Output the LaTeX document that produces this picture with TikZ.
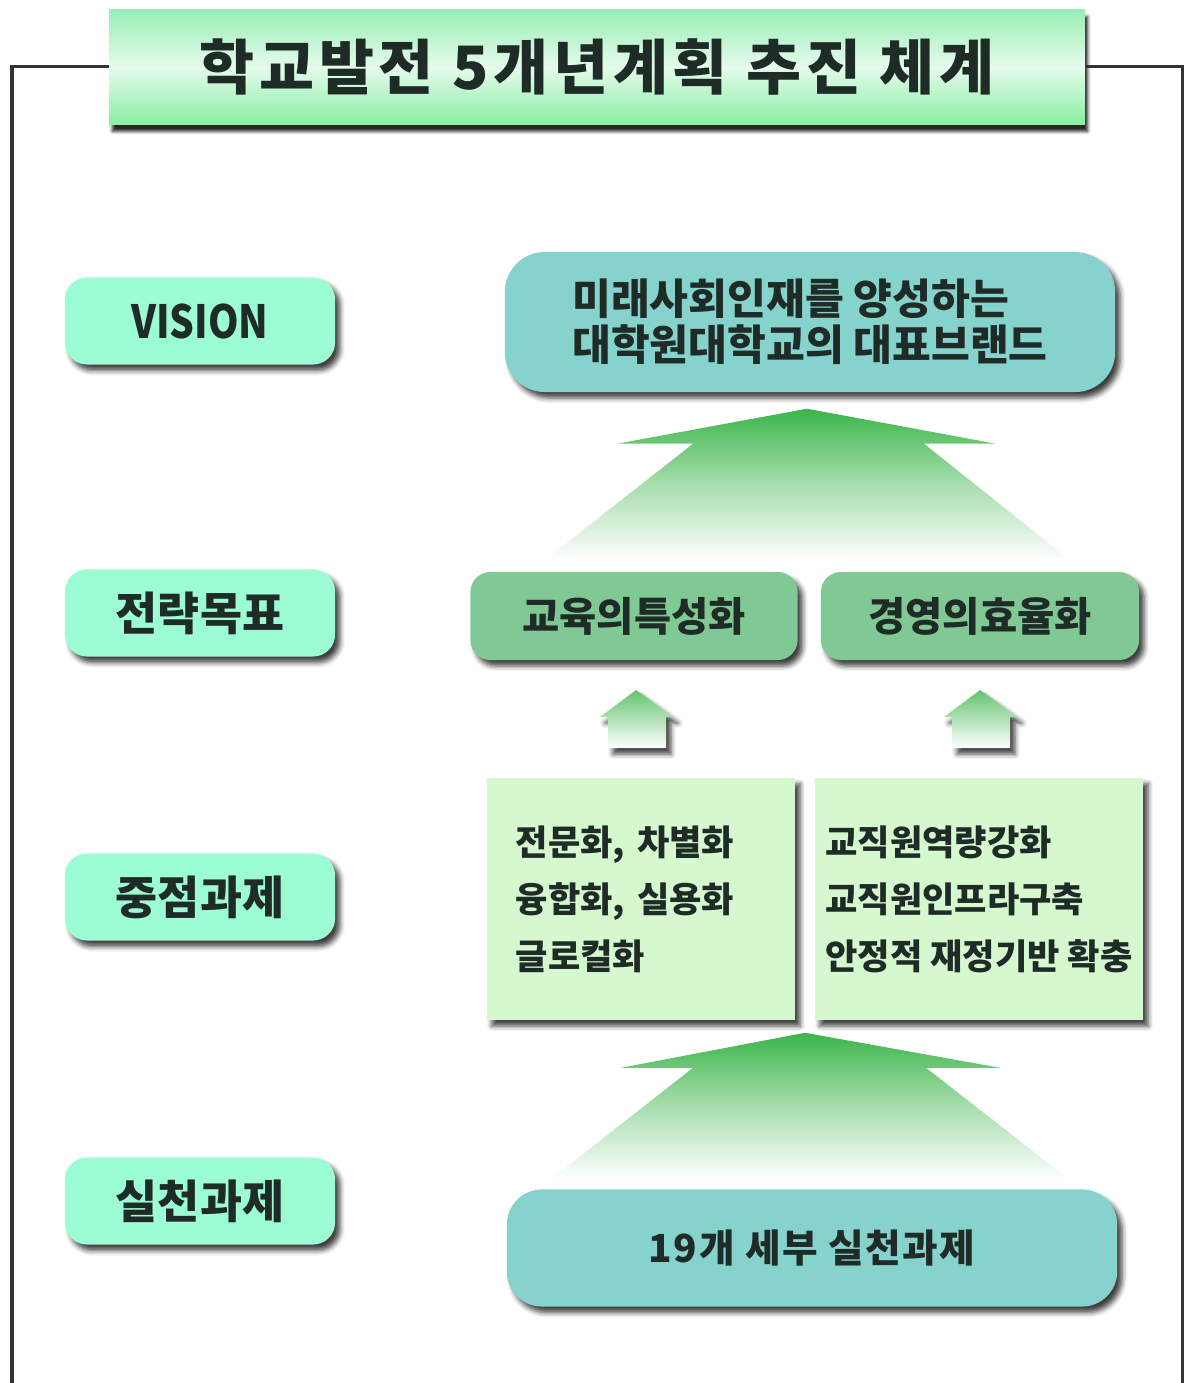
\documentclass[tikz,border=0pt]{standalone}
\usepackage{fontspec}
\setmainfont{Noto Sans CJK KR}
\usetikzlibrary{calc, shadows.blur}

\definecolor{mintbox}{HTML}{9CFCD4}
\definecolor{visionteal}{HTML}{86D2CC}
\definecolor{goalgreen}{HTML}{80C995}
\definecolor{taskgreen}{HTML}{D5F8CE}
\definecolor{arrowgreen}{HTML}{3CB54A}
\definecolor{titlegreen}{HTML}{98EEB4}
\definecolor{inkdark}{HTML}{1F2B27}
\definecolor{framegray}{HTML}{333333}

\tikzset{
  boxshadow/.style={blur shadow={shadow xshift=0.05cm, shadow yshift=-0.06cm,
      shadow blur radius=0.05cm, shadow opacity=75}},
  levelbox/.style={rounded corners=0.22cm, fill=mintbox, inner sep=0pt,
      minimum width=2.7cm, minimum height=0.87cm, boxshadow, text=inkdark,
      font=\bfseries\fontsize{13}{15}\selectfont},
  tealbox/.style={rounded corners=0.4cm, fill=visionteal, inner sep=0pt,
      minimum width=6.1cm, boxshadow, text=inkdark, align=left},
  goalbox/.style={rounded corners=0.2cm, fill=goalgreen, inner sep=0pt,
      minimum height=0.88cm, boxshadow, text=inkdark,
      font=\bfseries\fontsize{11.5}{13}\selectfont},
  taskbox/.style={fill=taskgreen, inner sep=0pt, minimum height=2.42cm,
      boxshadow, text=inkdark, align=left,
      font=\bfseries\fontsize{10}{16.2}\selectfont},
  uparrow/.style={top color=arrowgreen, bottom color=white, middle color=arrowgreen!45!white}
}

\begin{document}
\begin{tikzpicture}[x=0.01cm, y=-0.01cm]
  \useasboundingbox (0,0) rectangle (1190,1383);

  % Titel
  \node[minimum width=9.75cm, minimum height=1.15cm, inner sep=0pt,
        top color=titlegreen, bottom color=titlegreen!90!green, middle color=titlegreen!25!white,
        blur shadow={shadow xshift=0.03cm, shadow yshift=-0.07cm, shadow blur radius=0.03cm, shadow opacity=85},
        text=inkdark, font=\bfseries\fontsize{17}{19}\selectfont\addfontfeature{LetterSpace=8}]
    (title) at (597,67) {학교발전 5개년계획 추진 체계};

  % Rahmen
  \draw[framegray, line width=0.03cm] (title.west) -- (12,67) -- (12,1383);
  \draw[framegray, line width=0.03cm] (title.east) -- (1182,67) -- (1182,1383);

  % Stufen links
  \node[levelbox] (lvision) at (200,321) {\scalebox{0.85}[1]{VISION}};
  \node[levelbox] (lgoal)   at (200,613) {전략목표};
  \node[levelbox] (lfocus)  at (200,897) {중점과제};
  \node[levelbox] (lpract)  at (200,1201) {실천과제};

  % Vision
  \node[tealbox, minimum height=1.4cm, font=\bfseries\fontsize{12}{13}\selectfont]
    (vision) at (810,322) {미래사회인재를 양성하는\\대학원대학교의 대표브랜드};

  % Strategische Ziele
  \node[goalbox, minimum width=3.27cm] (goaledu) at (634,616) {교육의특성화};
  \node[goalbox, minimum width=3.18cm] (goalman) at (980,616) {경영의효율화};

  % Schwerpunkte
  \node[taskbox, minimum width=3.08cm, text width=2.5cm] (focusedu) at (641,899)
    {전문화, 차별화\\융합화, 실용화\\글로컬화};
  \node[taskbox, minimum width=3.28cm] (focusman) at (979,899)
    {교직원역량강화\\교직원인프라구축\\안정적 재정기반 확충};

  % Umsetzung
  \node[tealbox, minimum height=1.17cm, rounded corners=0.35cm,
        font=\bfseries\fontsize{11}{12}\selectfont\addfontfeature{LetterSpace=4}]
    (practice) at (812,1248) {19개 세부 실천과제};

  % grosser Pfeil Ziele -> Vision
  \coordinate (tipA) at ($(vision.south)+(-3,16)$);
  \path[uparrow] (tipA) -- ++(-190,35) -- ++(76,0) -- (545,560)
    -- (1070,560) -- ($(tipA)+(117,35)$) -- ++(72,0) -- cycle;

  % kleine Pfeile Schwerpunkte -> Ziele
  \foreach \cx in {636,980}
    \path[top color=arrowgreen!80!white, bottom color=white, boxshadow]
      (\cx,690) -- (\cx+37,717) -- (\cx+30,717) -- (\cx+30,748)
      -- (\cx-28,748) -- (\cx-28,717) -- (\cx-36,717) -- cycle;

  % grosser Pfeil Umsetzung -> Schwerpunkte
  \coordinate (tipB) at ($(focusedu.south east)!0.5!(focusman.south west)+(0,12)$);
  \path[uparrow] (tipB) -- ++(-184,35) -- ++(72,0) -- (550,1180)
    -- (1070,1180) -- ($(tipB)+(121,35)$) -- ++(74,0) -- cycle;
\end{tikzpicture}
\end{document}
